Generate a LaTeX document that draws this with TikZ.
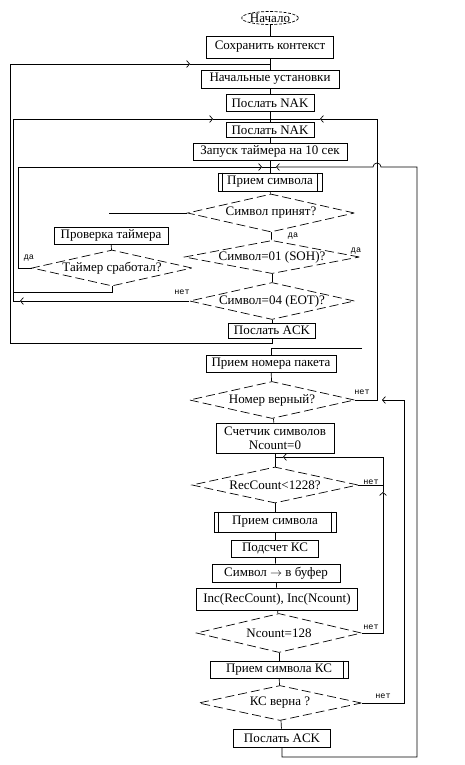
\documentclass[tikz,border=0pt]{standalone}
\usepackage{fontspec}
\setmainfont{Liberation Serif}
\newfontfamily\lblfont{Liberation Mono}
\usetikzlibrary{shapes.geometric, arrows.meta}

\tikzset{
  terminal/.style={ellipse, draw, dash pattern=on 3pt off 1.5pt, inner sep=0pt, minimum width=56pt, minimum height=13pt},
  block/.style={rectangle, draw, inner sep=1pt},
  decision/.style={diamond, draw, dash pattern=on 9pt off 4pt, aspect=5, inner sep=0pt},
  answer/.style={font=\lblfont\fontsize{8.5}{9}\selectfont, inner sep=0pt},
}

\begin{document}
\begin{tikzpicture}[x=1pt, y=-1pt, line width=0.7pt, font=\fontsize{13}{14}\selectfont, >={Straight Barb[length=3pt,width=7pt]}]

    \fill[white] (0,0) rectangle (465,765);

    % main column
    \node[terminal] at (270,18) (begin) {Начало};
    \node[block, minimum width=127pt, minimum height=22pt] at (270,47) (save) {Сохранить контекст};
    \node[block, minimum width=138pt, minimum height=18pt] at (270,79) (init) {Начальные установки};
    \node[block, minimum width=88pt, minimum height=17pt] at (270,103) (nakA) {Послать NAK};
    \node[block, minimum width=88pt, minimum height=15pt] at (270,130) (nakB) {Послать NAK};
    \node[block, minimum width=154pt, minimum height=17pt] at (270,151.5) (timer) {Запуск таймера на 10 сек};
    \node[block, minimum width=104pt, minimum height=18pt] at (270,182) (recvA) {Прием символа};
    \node[decision, minimum width=167pt, minimum height=38pt] at (271,213) (acc) {Символ принят?};
    \node[decision, minimum width=175pt, minimum height=33pt] at (272,257) (soh) {Символ=01 (SOH)?};
    \node[decision, minimum width=162pt, minimum height=37pt] at (272,301) (eot) {Символ=04 (EOT)?};
    \node[block, minimum width=87pt, minimum height=15pt] at (272,330.5) (ackA) {Послать ACK};

    % timer branch
    \node[block, minimum width=114pt, minimum height=17pt] at (111,235.5) (check) {Проверка таймера};
    \node[decision, minimum width=160pt, minimum height=36pt] at (112,268) (fired) {Таймер сработал?};

    % packet
    \node[block, minimum width=130pt, minimum height=17pt] at (271,363.5) (pkt) {Прием номера пакета};
    \node[decision, minimum width=165pt, minimum height=37pt] at (272,400) (pktok) {Номер верный?};
    \node[block, align=center, minimum width=118pt, minimum height=30pt, inner sep=0pt] at (275,438) (cnt) {Счетчик символов\\Ncount=0};
    \node[decision, minimum width=166pt, minimum height=36pt] at (275,485) (rec) {RecCount<1228?};
    \node[block, minimum width=122pt, minimum height=20pt] at (275,522) (recvB) {Прием символа};
    \node[block, minimum width=87pt, minimum height=17pt] at (275,548.5) (crc) {Подсчет КС};
    \node[block, minimum width=128pt, minimum height=18pt] at (276,573) (buf) {Символ $\rightarrow$ в буфер};
    \node[block, minimum width=161pt, minimum height=22pt] at (277,599) (inc) {Inc(RecCount), Inc(Ncount)};
    \node[decision, minimum width=165pt, minimum height=39pt] at (279,633) (n128) {Ncount=128};
    \node[block, minimum width=138pt, minimum height=17pt] at (279,669.5) (recvcs) {Прием символа КС};
    \node[decision, minimum width=163pt, minimum height=35pt] at (280,703) (csok) {КС верна ?};
    \node[block, minimum width=97pt, minimum height=18pt] at (282,738) (ackB) {Послать ACK};

    % subroutine marks
    \draw ([xshift=5pt]recvA.north west) -- ([xshift=5pt]recvA.south west);
    \draw ([xshift=-5pt]recvA.north east) -- ([xshift=-5pt]recvA.south east);
    \draw ([xshift=5pt]recvB.north west) -- ([xshift=5pt]recvB.south west);
    \draw ([xshift=-5pt]recvB.north east) -- ([xshift=-5pt]recvB.south east);
    \draw ([xshift=-5pt]recvcs.north east) -- ([xshift=-5pt]recvcs.south east);

    % answers
    \node[answer] at (293,236) (accyes) {да};
    \node[answer] at (356,251) (sohyes) {да};
    \node[answer] at (29,258) (firedyes) {да};
    \node[answer] at (182,292) (eotno) {нет};
    \node[answer] at (362,392) (pktno) {нет};
    \node[answer] at (371,482) (recno) {нет};
    \node[answer] at (371,627) (n128no) {нет};
    \node[answer] at (383,696) (csno) {нет};

    % junctions
    \coordinate (j1) at (270,64);
    \coordinate (a1) at (190,64);
    \coordinate (j2) at (270,119);
    \coordinate (a2) at (213,119);
    \coordinate (a2r) at (320,119);
    \coordinate (j3) at (270,167);
    \coordinate (a3) at (262,167);
    \coordinate (a3r) at (276,167);
    \coordinate (j4) at (275,457);
    \coordinate (a4) at (283,457);
    \coordinate (a5) at (383,492);
    \coordinate (accend) at (109,213);
    \coordinate (sohend) at (362,348);

    \path[draw] (begin) edge (save);
    \path[draw] (save) edge (init);
    \path[draw] (init) edge (nakA);
    \path[draw] (nakA) edge (nakB);
    \path[draw] (nakB) edge (timer);
    \path[draw] (timer) edge (recvA);
    \path[draw] (recvA) edge (acc);
    \path[draw] (acc) edge (soh);
    \path[draw] (soh) edge (eot);
    \path[draw] (eot) edge (ackA);
    \path[draw] (check) edge (fired);
    \path[draw] (pkt) edge (pktok);
    \path[draw] (pktok) edge (cnt);
    \path[draw] (cnt) edge (rec);
    \path[draw] (rec) edge (recvB);
    \path[draw] (recvB) edge (crc);
    \path[draw] (crc) edge (buf);
    \path[draw] (buf) edge (inc);
    \path[draw] (inc) edge (n128);
    \path[draw] (n128) edge (recvcs);
    \path[draw] (recvcs) edge (csok);
    \path[draw] (csok) edge (ackB);

    % loops on the left
    \draw[->] (ackA.south) |- (10,343) |- (a1);
    \draw (a1) -- (j1);
    \draw[->] (eot.west) -- (20,301);
    \draw[->] (20,301) -| (13,119) -- (a2);
    \draw (a2) -- (j2);
    \draw (fired.south) |- (13,292);
    \draw[->] (fired.west) -| (18,167) -- (a3);
    \draw (a3) -- (j3);
    \draw (acc.west) -- (accend);
    \draw (sohend) -| (pkt.north);

    % loops on the right
    \draw[->] (pktok.east) -| (377,119) -- (a2r);
    \draw (a2r) -- (j2);
    \draw[->] (csok.east) -| (404,400) -- (382,400);
    \draw[->] (ackB.south) |- (417,757) -- (417,167) -- (381,167) arc[start angle=0, end angle=-180, radius=4] -- (a3r);
    \draw (a3r) -- (j3);
    \draw[->] (n128.east) -| (a5);
    \draw[->] (a5) |- (a4);
    \draw (a4) -- (j4);
    \draw (rec.east) -- (383,485);

\end{tikzpicture}
\end{document}
